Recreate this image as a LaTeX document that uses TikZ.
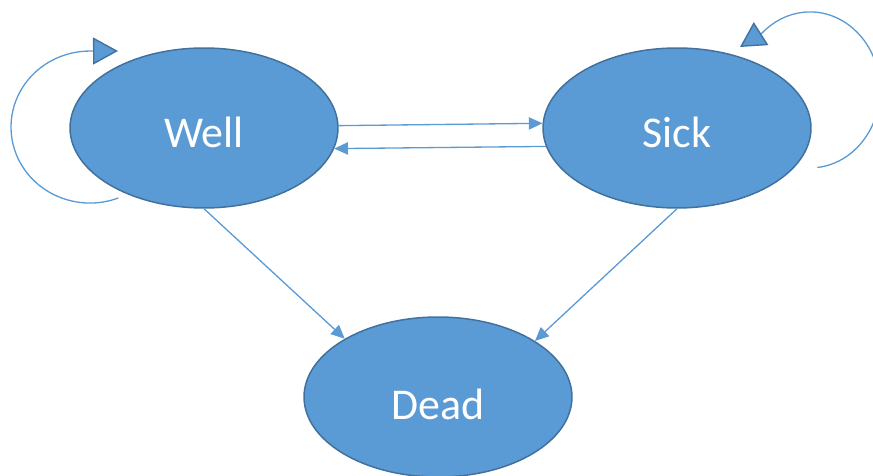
\documentclass[tikz,border=0pt]{standalone}
\usepackage{fontspec}
\setmainfont{Carlito}
\usepackage{tikz}
\usetikzlibrary{shapes}
\usetikzlibrary{arrows.meta}
\definecolor{officeblue}{HTML}{5B9BD5}
\definecolor{officeedge}{HTML}{41719C}

\begin{document}
\begin{tikzpicture}[x=0.02cm,y=0.02cm,
    statenode/.style={ellipse,draw=officeedge,line width=0.85pt,fill=officeblue,
      minimum width=5.36cm,minimum height=3.2cm,inner sep=0pt,
      text height=0.78cm,text depth=0pt,
      text=white,font=\fontsize{25}{30}\selectfont},
    link/.style={officeblue,line width=0.75pt,-{Triangle[length=7.8pt,width=7pt]}},
    selfloop/.style={officeblue,line width=0.75pt,
      -{Triangle[length=0.5cm,width=0.54cm,fill=officeblue,color=officeedge,line width=0.8pt]}}]
    \useasboundingbox (0,0) rectangle (873,476);
    % States
    \node[statenode] (well) at (204,348) {Well};
    \node[statenode] (sick) at (677,348) {Sick};
    \node[statenode,text height=0.92cm] (dead) at (438,79) {Dead};
    % Transitions between states
    \draw[link] (well.1) -- (sick.178);
    \draw[link] (sick.188) -- (well.351);
    \draw[link] (well.south) -- (dead.148);
    \draw[link] (sick.south) -- (dead.30);
    % Staying in the same state
    \coordinate (wellloop) at (118.3,278);
    \draw[selfloop] (wellloop) arc[start angle=-69,end angle=-270,x radius=79,y radius=76] -- (118,425);
    \coordinate (sickloop) at (817.3,308.5);
    \draw[selfloop] (sickloop) arc[start angle=-84,end angle=133,x radius=70,y radius=78] -- (740,429);
\end{tikzpicture}
\end{document}
